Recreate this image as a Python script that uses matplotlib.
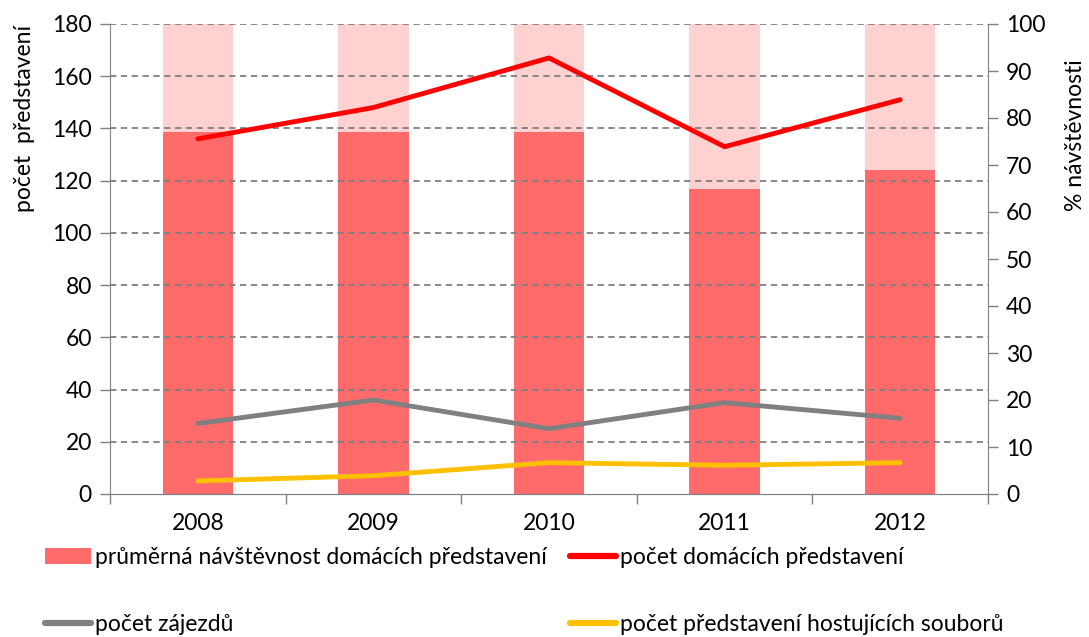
import matplotlib
matplotlib.use("Agg")
import matplotlib.pyplot as plt
from matplotlib.patches import Patch
from matplotlib.lines import Line2D
import numpy as np

plt.rcParams['font.family'] = ['Lato', 'DejaVu Sans']

years = ["2008", "2009", "2010", "2011", "2012"]
attendance_pct = [77, 77, 77, 65, 69]
home_shows = [136, 148, 167, 133, 151]
tours = [27, 36, 25, 35, 29]
guest_shows = [5, 7, 12, 11, 12]

fs = 16.5
fig = plt.figure(figsize=(10.89, 6.37), dpi=100)
ax = fig.add_axes([110/1089, 1-494/637, (988-110)/1089, (494-24)/637])
ax2 = ax.twinx()

x = np.arange(len(years))
# right axis: bars
ax2.bar(x, [100]*len(years), width=0.4, color='#FFD1D1', zorder=1)
ax2.bar(x, attendance_pct, width=0.4, color='#FF6B6B', zorder=2)
ax2.set_ylim(0, 100)
ax2.set_yticks(range(0, 101, 10))
ax2.set_xlim(-0.5, 4.5)

# left axis lines drawn above bars
ax.set_zorder(ax2.get_zorder() + 1)
ax.patch.set_visible(False)
ax.plot(x, home_shows, color='#FF0000', lw=3.5, solid_capstyle='round', zorder=5)
ax.plot(x, tours, color='#808080', lw=3.5, solid_capstyle='round', zorder=5)
ax.plot(x, guest_shows, color='#FFC000', lw=3.5, solid_capstyle='round', zorder=5)
ax.set_ylim(0, 180)
ax.set_yticks(range(0, 181, 20))
ax.set_xlim(-0.5, 4.5)
ax.set_xticks(x)
ax.set_xticklabels(years)
ax.set_xticks(np.arange(-0.5, 5, 1), minor=True)
ax.tick_params(axis='x', which='major', length=0, pad=14, labelsize=fs)
ax.tick_params(axis='x', which='minor', length=7, color='#808080', width=1)
ax.tick_params(axis='y', length=7, color='#808080', width=1, labelsize=fs, pad=6)
ax2.tick_params(axis='y', length=7, color='#808080', width=1, labelsize=fs, pad=6)

# gridlines (dashed) drawn on bars
for v in range(20, 181, 20):
    ax2.axhline(v/1.8, color='#7F7F7F', lw=1.3, ls=(0, (3.5, 2.5)), zorder=3)

for a in (ax, ax2):
    a.spines['top'].set_visible(False)
    a.spines['left'].set_color('#808080')
    a.spines['right'].set_color('#808080')
    a.spines['bottom'].set_color('#808080')
ax.spines['right'].set_visible(False)
ax2.spines['left'].set_visible(False)

fig.text(25/1089, 1-118/637, "počet  představení", rotation=90, ha='center', va='center', fontsize=fs)
fig.text(1076/1089, 1-135/637, "% návštěvnosti", rotation=90, ha='center', va='center', fontsize=fs)

handles = [
    Patch(facecolor='#FF6B6B', edgecolor='none'),
    Line2D([0], [0], color='#808080', lw=4.5, solid_capstyle='round'),
    Line2D([0], [0], color='#FF0000', lw=4.5, solid_capstyle='round'),
    Line2D([0], [0], color='#FFC000', lw=4.5, solid_capstyle='round'),
]
labels = ["průměrná návštěvnost domácích představení", "počet zájezdů",
          "počet domácích představení", "počet představení hostujících souborů"]
fig.legend(handles, labels, ncol=2, loc='upper left', bbox_to_anchor=(45/1089, 1-547/637),
           frameon=False, fontsize=fs, handlelength=2.0, handletextpad=0.2,
           columnspacing=1.0, labelspacing=2.0, borderaxespad=0, borderpad=0)

fig.savefig("out.png", dpi=100)
